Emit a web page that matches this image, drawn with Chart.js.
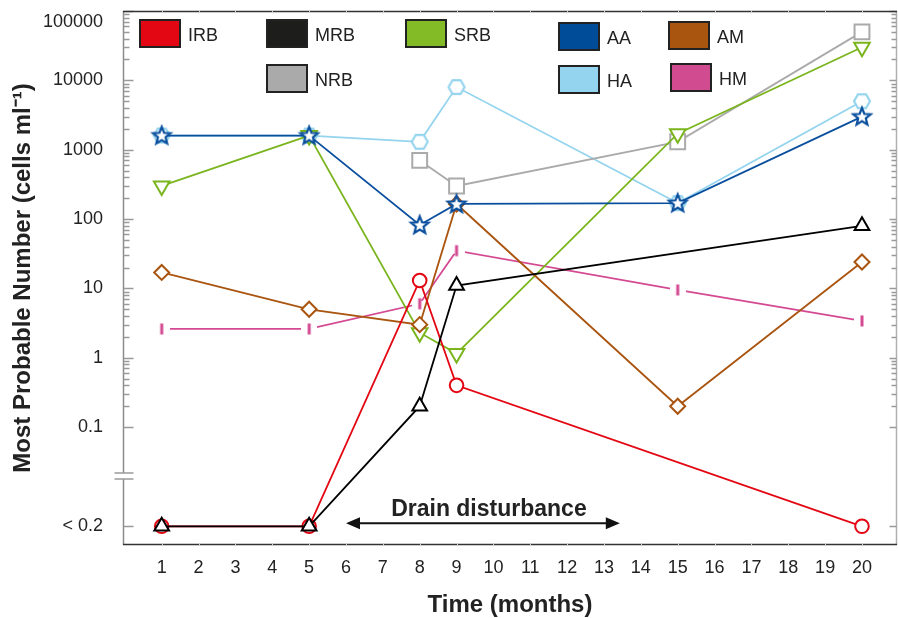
<!DOCTYPE html>
<html><head><meta charset="utf-8">
<script src="https://cdn.jsdelivr.net/npm/chart.js@4.4.1/dist/chart.umd.min.js"></script>
<style>html,body{margin:0;padding:0;background:#fff;}#wrap{width:898px;height:618px;}</style>
</head><body><div id="wrap"><canvas id="c" width="898" height="618"></canvas></div>
<script>
// ---------- data ----------
const BDL = '< 0.2';                       // below detection limit
const months = [1, 5, 8, 9, 15, 20];
const IRB = [BDL, BDL, 13, 0.4, null, BDL];
const MRB = [BDL, BDL, 0.2, 11, null, 80];
const SRB = [300, 1600, 2.3, 1.15, 1700, 30000];
const NRB = [null, null, 700, 300, 1300, 50000];
const AA  = [1600, 1600, 82, 165, 170, 3000];
const HA  = [1600, 1600, 1300, 8000, 170, 5000];
const AM  = [17, 5, 3, 165, 0.2, 24];
const HM  = [2.6, 2.6, 6, 35, 9.5, 3.4];
const xTickValues = [1,2,3,4,5,6,7,8,9,10,11,12,13,14,15,16,17,18,19,20];
const yDecades = [0.1, 1, 10, 100, 1000, 10000, 100000];
const yDecadeLabels = ['0.1', '1', '10', '100', '1000', '10000', '100000'];
const disturbance = {label: 'Drain disturbance', from: 6, to: 13.43};

// ---------- axis geometry (scale units: log10 of value; BDL band below break) ----------
const Y_MIN = -2.7, Y_MAX = 5, BDL_POS = -2.43, BREAK_HI = -1.66, BREAK_LO = -1.75;
const toAxis = v => v === BDL ? BDL_POS : Math.log10(v);
const FONT = '"Liberation Sans", Arial, sans-serif';

// ---------- custom markers ----------
function mk(w, h, draw) { const c = document.createElement('canvas'); c.width = w; c.height = h; draw(c.getContext('2d')); return c; }
const starImg = mk(24, 24, g => {
  g.beginPath();
  for (let i = 0; i < 10; i++) {
    const r = i % 2 ? 4 : 9.2, a = -Math.PI / 2 + i * Math.PI / 5;
    g.lineTo(12 + r * Math.cos(a), 12.5 + r * Math.sin(a));
  }
  g.closePath(); g.fillStyle = '#fff'; g.fill(); g.lineWidth = 2.2; g.strokeStyle = '#0a4f9e'; g.stroke();
});
const hexImg = mk(22, 22, g => {
  g.beginPath();
  for (let i = 0; i < 6; i++) { const a = i * Math.PI / 3; g.lineTo(11 + 8 * Math.cos(a), 11 + 8 * Math.sin(a)); }
  g.closePath(); g.fillStyle = '#fff'; g.fill(); g.lineWidth = 2.2; g.strokeStyle = '#94d4ee'; g.stroke();
});
const barImg = mk(16, 14, g => {
  g.fillStyle = '#fff'; g.fillRect(0, 4, 16, 6);
  g.fillStyle = '#d44a92'; g.fillRect(6.5, 1.5, 3, 11);
});

function ds(label, vals, color, style, extra) {
  const data = [];
  months.forEach((m, i) => { if (vals[i] !== null) data.push({x: m, y: toAxis(vals[i])}); });
  return Object.assign({label, data, borderColor: color, borderWidth: 1.8, pointBorderColor: color,
    pointBackgroundColor: '#fff', pointBorderWidth: 2, pointStyle: style, pointRadius: 7, tension: 0, fill: false}, extra || {});
}
const datasets = [
  ds('IRB', IRB, '#e30613', 'circle', {pointRadius: 6.8, order: 2}),
  ds('MRB', MRB, '#000000', 'triangle', {pointRadius: 8.5, order: 1, legendFill: '#1d1d1b'}),
  ds('SRB', SRB, '#7ab51d', 'triangle', {pointRadius: 9, pointRotation: 180, order: 5, legendFill: '#82bb25'}),
  ds('NRB', NRB, '#aaaaaa', 'rect', {pointRadius: 10.5, order: 6}),
  ds('AA', AA, '#0a4f9e', starImg, {order: 3, legendFill: '#004c99'}),
  ds('HA', HA, '#94d4ee', hexImg, {order: 7}),
  ds('AM', AM, '#a9540f', 'rectRot', {pointRadius: 7.5, order: 4}),
  ds('HM', HM, '#d44a92', barImg, {order: 8, legendFill: '#d14b91'})
];
const legendLayout = {IRB: [140, 20], MRB: [267, 20], SRB: [406, 20], AA: [559, 23], AM: [669, 22],
                      NRB: [267, 65], HA: [559, 66], HM: [671, 64]};

// ---------- decorations ----------
const framePlugin = {
  id: 'frame',
  beforeDatasetsDraw(chart) {
    const {ctx, chartArea: a, scales: {x, y}} = chart;
    ctx.save();
    const L = a.left + 0.5, R = a.right - 0.5;
    const yHi = y.getPixelForValue(BREAK_HI), yLo = y.getPixelForValue(BREAK_LO);
    const majors = yDecades.map(Math.log10).concat([BDL_POS]);
    const minors = [];
    for (let d = -1; d < 5; d++) for (let k = 2; k < 10; k++) minors.push(d + Math.log10(k));
    ctx.lineWidth = 1.5;
    // left axis with break
    ctx.strokeStyle = '#8c8c8c';
    ctx.beginPath(); ctx.moveTo(L, a.top); ctx.lineTo(L, yHi); ctx.moveTo(L, yLo); ctx.lineTo(L, a.bottom); ctx.stroke();
    ctx.strokeStyle = '#9a9a9a';
    ctx.beginPath(); ctx.moveTo(L - 9, yHi); ctx.lineTo(L + 10, yHi); ctx.moveTo(L - 9, yLo); ctx.lineTo(L + 10, yLo); ctx.stroke();
    // right axis
    ctx.strokeStyle = '#b0b0b0';
    ctx.beginPath(); ctx.moveTo(R, a.top); ctx.lineTo(R, a.bottom); ctx.stroke();
    // ticks
    ctx.strokeStyle = '#9a9a9a'; ctx.lineWidth = 1.3;
    ctx.beginPath();
    majors.forEach(t => { const p = Math.round(y.getPixelForValue(t)) + 0.5; ctx.moveTo(L, p); ctx.lineTo(L + 10, p); ctx.moveTo(R, p); ctx.lineTo(R - 7, p); });
    minors.forEach(t => { const p = Math.round(y.getPixelForValue(t)) + 0.5; ctx.moveTo(L, p); ctx.lineTo(L + 6, p); ctx.moveTo(R, p); ctx.lineTo(R - 5, p); });
    ctx.stroke();
    // top & bottom lines
    ctx.strokeStyle = '#333'; ctx.lineWidth = 1.5;
    ctx.beginPath(); ctx.moveTo(a.left, a.top + 0.5); ctx.lineTo(a.right, a.top + 0.5);
    ctx.moveTo(a.left, a.bottom - 0.5); ctx.lineTo(a.right, a.bottom - 0.5); ctx.stroke();
    ctx.strokeStyle = '#d0d0d0'; ctx.lineWidth = 1;
    ctx.beginPath();
    xTickValues.forEach(v => { const p = Math.round(x.getPixelForValue(v)) + 0.5;
      ctx.moveTo(p, a.bottom - 2); ctx.lineTo(p, a.bottom + 1); ctx.moveTo(p, a.top - 1); ctx.lineTo(p, a.top + 2); });
    ctx.stroke();
    ctx.restore();
  },
  afterDatasetsDraw(chart) {
    const {ctx, scales: {x, y}} = chart;
    const x1 = x.getPixelForValue(disturbance.from), x2 = x.getPixelForValue(disturbance.to);
    const py = y.getPixelForValue(BDL_POS) - 3;
    ctx.save();
    ctx.strokeStyle = '#111'; ctx.fillStyle = '#111'; ctx.lineWidth = 2;
    ctx.beginPath(); ctx.moveTo(x1 + 10, py); ctx.lineTo(x2 - 10, py); ctx.stroke();
    ctx.beginPath(); ctx.moveTo(x1, py); ctx.lineTo(x1 + 14, py - 6); ctx.lineTo(x1 + 14, py + 6); ctx.closePath(); ctx.fill();
    ctx.beginPath(); ctx.moveTo(x2, py); ctx.lineTo(x2 - 14, py - 6); ctx.lineTo(x2 - 14, py + 6); ctx.closePath(); ctx.fill();
    ctx.font = 'bold 23px ' + FONT; ctx.textAlign = 'center'; ctx.textBaseline = 'middle'; ctx.fillStyle = '#222';
    ctx.fillText(disturbance.label, (x1 + x2) / 2 + 6, py - 14);
    ctx.restore();
  },
  afterDraw(chart) {
    const {ctx} = chart;
    ctx.save();
    chart.data.datasets.forEach(d => {
      const p = legendLayout[d.label]; if (!p) return;
      ctx.fillStyle = d.legendFill || d.borderColor; ctx.fillRect(p[0], p[1], 40, 27);
      ctx.strokeStyle = '#222'; ctx.lineWidth = 2; ctx.strokeRect(p[0], p[1], 40, 27);
      ctx.fillStyle = '#222'; ctx.font = '18px ' + FONT; ctx.textAlign = 'left'; ctx.textBaseline = 'middle';
      ctx.fillText(d.label, p[0] + 48, p[1] + 16);
    });
    ctx.restore();
  }
};

new Chart(document.getElementById('c'), {
  type: 'line',
  data: {datasets},
  plugins: [framePlugin],
  options: {
    responsive: false, animation: false, events: [],
    layout: {autoPadding: false, padding: {top: 11, right: 1, left: 0, bottom: 0}},
    plugins: {legend: {display: false}, tooltip: {enabled: false}},
    scales: {
      x: {
        type: 'linear', min: -0.05, max: 20.95,
        afterBuildTicks: s => { s.ticks = xTickValues.map(v => ({value: v})); },
        afterFit: s => { s.height = 73; s.paddingLeft = 0; s.paddingRight = 0; },
        grid: {display: false, drawTicks: false}, border: {display: false},
        ticks: {padding: 12, autoSkip: false, maxRotation: 0, color: '#222', font: {family: FONT, size: 18}, callback: v => String(v)},
        title: {display: true, text: 'Time (months)', color: '#222', font: {family: FONT, size: 24, weight: 'bold', lineHeight: 1}, padding: {top: 0, bottom: 1}}
      },
      y: {
        type: 'linear', min: Y_MIN, max: Y_MAX,
        afterBuildTicks: s => { s.ticks = yDecades.map(v => ({value: Math.log10(v)})).concat([{value: BDL_POS}]); },
        afterFit: s => { s.width = 123; s.paddingTop = 0; s.paddingBottom = 0; },
        grid: {display: false, drawTicks: false}, border: {display: false},
        ticks: {padding: 20, autoSkip: false, color: '#222', font: {family: FONT, size: 18},
          callback: (v, i) => i < yDecadeLabels.length ? (i === yDecadeLabels.length - 1 ? ['', yDecadeLabels[i]] : yDecadeLabels[i]) : BDL},
        title: {display: true, text: 'Most Probable Number (cells ml\u207B\u00B9)', color: '#222', font: {family: FONT, size: 24, weight: 'bold', lineHeight: 1}, padding: {top: 11, bottom: 0}}
      }
    }
  }
});
</script></body></html>
